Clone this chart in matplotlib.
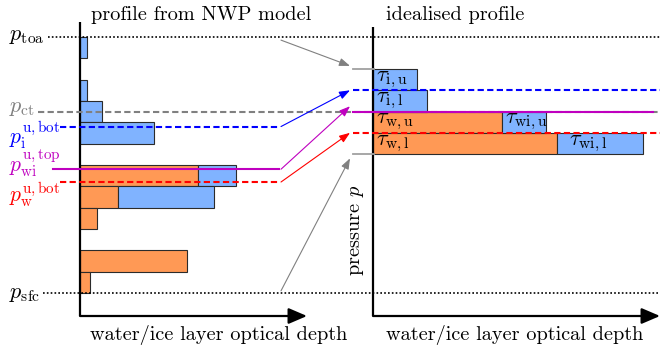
import numpy as np
import matplotlib
matplotlib.use('Agg')
import matplotlib.pyplot as plt
from matplotlib.transforms import blended_transform_factory as blend

plt.rcParams['font.family'] = 'serif'
plt.rcParams['font.serif'] = ['cmr10']
plt.rcParams['mathtext.fontset'] = 'cm'
plt.rcParams['axes.unicode_minus'] = False

# NWP model column, layers listed top to bottom (layer optical depths)
nwp_water = np.array([0, 0, 0, 0, 0, 0, 11.8, 3.8, 1.7, 0, 10.7, 1.0])
nwp_ice = np.array([0.7, 0, 0.7, 2.2, 7.4, 0, 3.8, 9.6, 0, 0, 0, 0])

# pressure levels, in model layer units
p_toa, p_sfc = 0.0, 12.0
p_ct = 3.5
p_i_ubot = 4.2
p_wi_utop = 6.2
p_w_ubot = 6.8

# idealised profile: upper/lower ice, upper/lower water layers
ideal_water = np.array([0, 0, 12.9, 18.4])
ideal_ice = np.array([4.4, 5.4, 4.4, 8.6])
ideal_ice_names = [r'$\tau_\mathrm{i,u}$', r'$\tau_\mathrm{i,l}$',
                   r'$\tau_\mathrm{wi,u}$', r'$\tau_\mathrm{wi,l}$']
ideal_water_names = ['', '', r'$\tau_\mathrm{w,u}$', r'$\tau_\mathrm{w,l}$']
ideal_levels = [0, 1, 2, 3, 4]  # top, p_i ubot, p_wi utop, p_w ubot, bottom

ORANGE = '#ff9955'
BLUE = '#80b3ff'
EDGE = '#2b2b2b'
C_I = '#0000ff'
C_WI = '#bf00bf'
C_W = '#ff0000'
GRAY = '#808080'
FS = 14.6
FS_SYM = 16
FS_LEV = 15.5

W, H = 660, 346
fig = plt.figure(figsize=(W / 100, H / 100), dpi=100)


def px_axes(x0, y0, x1, y1):
    return fig.add_axes([x0 / W, 1 - y1 / H, (x1 - x0) / W, (y1 - y0) / H])


def draw_frame(ax):
    ax.axis('off')
    ax.plot([0, 0], [0, 1], transform=ax.transAxes, color='k', lw=1.6,
            clip_on=False, solid_capstyle='butt', zorder=4)
    ax.annotate('', xy=(1, 0), xytext=(0, 0), xycoords='axes fraction',
                arrowprops=dict(arrowstyle='-|>,head_length=0.7,head_width=0.3',
                                color='k', lw=1.6, shrinkA=0, shrinkB=0,
                                mutation_scale=16), zorder=4)


def stacked(ax, rows, water, ice):
    rows = np.asarray(rows)
    m = water > 0
    ax.barh(rows[m], water[m], height=1, align='edge', color=ORANGE,
            edgecolor=EDGE, lw=0.8, zorder=2)
    m = ice > 0
    ax.barh(rows[m], ice[m], left=water[m], height=1, align='edge',
            color=BLUE, edgecolor=EDGE, lw=0.8, zorder=2)


# left panel: model profile
axL = px_axes(80, 22, 307, 316)
axL.set_xlim(0, 22.7)
axL.set_ylim(13.08, -0.70)
draw_frame(axL)
stacked(axL, np.arange(len(nwp_water)), nwp_water, nwp_ice)

# right panel: idealised profile
axR = px_axes(373, 27, 660, 316)
axR.set_xlim(0, 28.7)
axR.set_ylim(11.62, -1.98)
draw_frame(axR)
rows = np.arange(len(ideal_ice))
stacked(axR, rows, ideal_water, ideal_ice)
for r in rows:
    if ideal_water[r] > 0:
        axR.text(0.3, r + 0.5, ideal_water_names[r], fontsize=FS_SYM,
                 va='center', zorder=5)
        off = 0.3 if r == 2 else 1.2
        axR.text(ideal_water[r] + off, r + 0.5, ideal_ice_names[r],
                 fontsize=FS_SYM, va='center', zorder=5)
    else:
        axR.text(0.3, r + 0.5, ideal_ice_names[r], fontsize=FS_SYM,
                 va='center', zorder=5)

# overlay in pixel units for levels, arrows and labels
ov = px_axes(0, 0, W, H)
ov.set_xlim(0, W)
ov.set_ylim(H, 0)
ov.axis('off')
tL = blend(ov.transData, axL.transData)
tR = blend(ov.transData, axR.transData)

dotted = dict(color='k', lw=1.2, ls=(0, (1, 1.3)))
dashed = dict(lw=1.5, ls=(0, (3, 1.6)))
ov.plot([48, W], [p_toa, p_toa], transform=tL, **dotted)
ov.plot([43, W], [p_sfc, p_sfc], transform=tL, **dotted)
ov.plot([38, W], [p_ct, p_ct], transform=tL, color=GRAY, **dashed)
ov.plot([60, 279], [p_i_ubot, p_i_ubot], transform=tL, color=C_I, **dashed)
ov.plot([53, 279], [p_wi_utop, p_wi_utop], transform=tL, color=C_WI, lw=1.5)
ov.plot([60, 279], [p_w_ubot, p_w_ubot], transform=tL, color=C_W, **dashed)

top, iu, wiu, wu, bot = ideal_levels
ov.plot([353, 374], [top, top], transform=tR, color='#a0a0a0', lw=1.3)
ov.plot([353, 374], [bot, bot], transform=tR, color='#a0a0a0', lw=1.3)
ov.plot([353, W], [iu, iu], transform=tR, color=C_I, **dashed)
ov.plot([353, 653], [wiu, wiu], transform=tR, color=C_WI, lw=1.5)
ov.plot([353, W], [wu, wu], transform=tR, color=C_W, **dashed)

links = [(p_toa + 0.15, top - 0.15, GRAY), (p_i_ubot, iu, C_I),
         (p_wi_utop, wiu - 0.25, C_WI), (p_w_ubot, wu, C_W),
         (p_sfc - 0.1, bot + 0.2, GRAY)]
for yl, yr, c in links:
    ov.annotate('', xy=(350, yr), xycoords=tR, xytext=(281, yl),
                textcoords=tL,
                arrowprops=dict(arrowstyle='-|>,head_length=0.8,head_width=0.3',
                                color=c, lw=0.8, shrinkA=0, shrinkB=0,
                                mutation_scale=8))

# level labels
ov.text(9, 36, r'$p_\mathrm{toa}$', fontsize=FS_SYM, va='center')
ov.text(9, 108, r'$p_\mathrm{ct}$', fontsize=FS_SYM, va='center', color=GRAY)
ov.text(9, 135, r'$p_\mathrm{i}^\mathrm{u,bot}$', fontsize=FS_LEV,
        va='center', color=C_I)
ov.text(9, 164, r'$p_\mathrm{wi}^\mathrm{u,top}$', fontsize=FS_LEV,
        va='center', color=C_WI)
ov.text(9, 195, r'$p_\mathrm{w}^\mathrm{u,bot}$', fontsize=FS_LEV,
        va='center', color=C_W)
ov.text(9, 294, r'$p_\mathrm{sfc}$', fontsize=FS_SYM, va='center')

# titles and axis labels
ov.text(201, 15, 'profile from NWP model', fontsize=FS, ha='center',
        va='center')
ov.text(455, 15, 'idealised profile', fontsize=FS, ha='center', va='center')
ov.text(219, 335, 'water/ice layer optical depth', fontsize=FS,
        ha='center', va='center')
ov.text(515, 335, 'water/ice layer optical depth', fontsize=FS,
        ha='center', va='center')
ov.text(357, 230, r'pressure $p$', fontsize=FS, rotation=90, ha='center',
        va='center')

fig.savefig('out.png', dpi=100)
